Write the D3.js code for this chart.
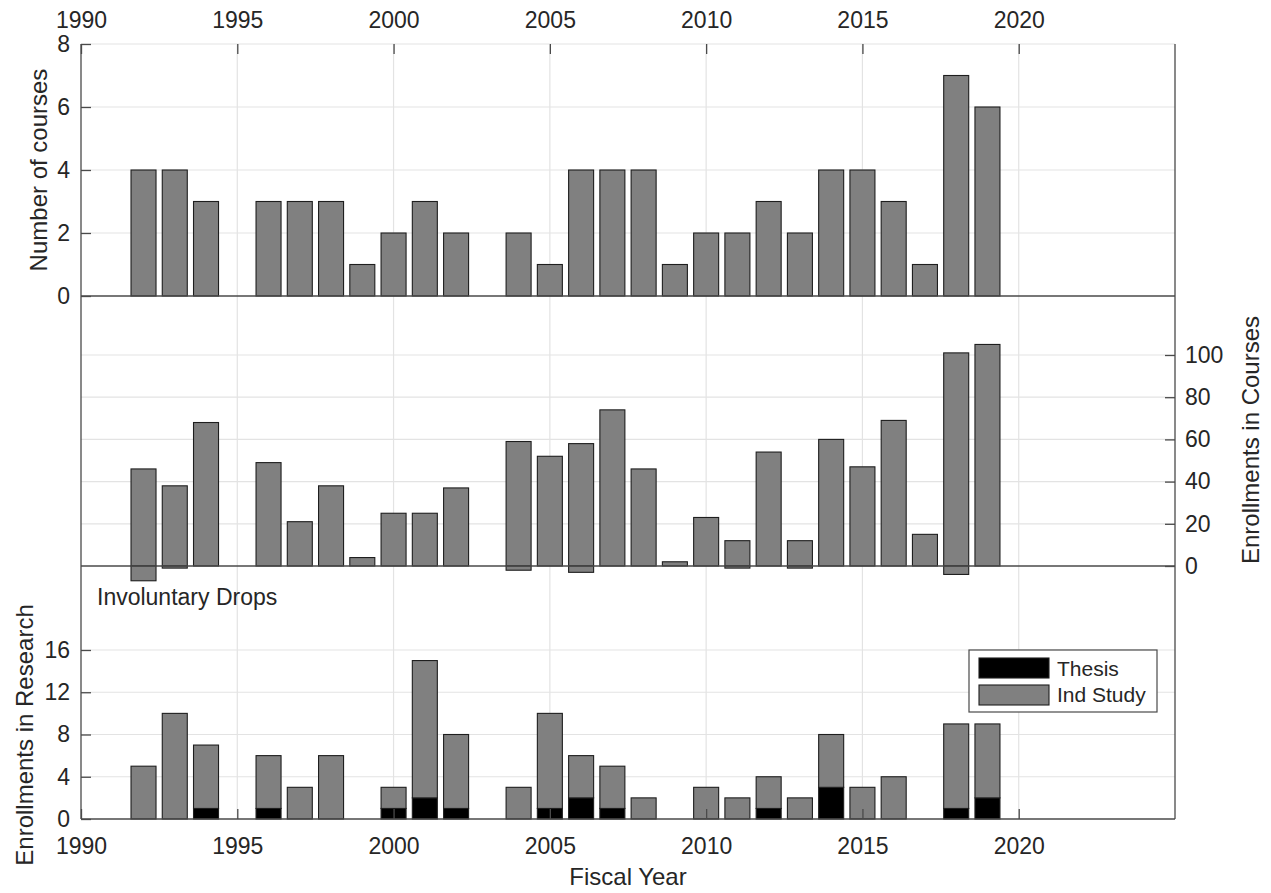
<!DOCTYPE html>
<html>
<head>
<meta charset="utf-8">
<script src="https://cdn.jsdelivr.net/npm/d3@7"></script>
<style>
  html, body { margin: 0; padding: 0; background: #fff; }
  svg { display: block; }
  text { font-family: "Liberation Sans", Arial, Helvetica, sans-serif; fill: #262626; }
</style>
</head>
<body>
<svg id="chart" width="1271" height="893"></svg>
<script>
// ---- data ----
const years       = [1992,1993,1994,1995,1996,1997,1998,1999,2000,2001,2002,2003,2004,2005,2006,2007,2008,2009,2010,2011,2012,2013,2014,2015,2016,2017,2018,2019];
const courses     = [4,4,3,0,3,3,3,1,2,3,2,0,2,1,4,4,4,1,2,2,3,2,4,4,3,1,7,6];
const enrollments = [46,38,68,0,49,21,38,4,25,25,37,0,59,52,58,74,46,2,23,12,54,12,60,47,69,15,101,105];
const drops       = [7,1,0,0,0,0,0,0,0,0,0,0,2,0,3,0,0,0,0,1,0,1,0,0,0,0,4,0];
const thesis      = [0,0,1,0,1,0,0,0,1,2,1,0,0,1,2,1,0,0,0,0,1,0,3,0,0,0,1,2];
const indStudy    = [5,10,6,0,5,3,6,0,2,13,7,0,3,9,4,4,2,0,3,2,3,2,5,3,4,0,8,7];
const xTicks      = [1990,1995,2000,2005,2010,2015,2020];
const topTicks    = [0,2,4,6,8];
const midTicks    = [0,20,40,60,80,100];
const botTicks    = [0,4,8,12,16];
const legendLabels = ["Thesis","Ind Study"];

// ---- layout ----
const L = 81, R = 1175, T = 44, B = 819;
const svg = d3.select("#chart");
const x = d3.scaleLinear().domain([1990, 2025]).range([L, R]);
const yTop = d3.scaleLinear().domain([0, 8]).range([296, T]);
const yMid = d3.scaleLinear().domain([0, 100]).range([566, 355]);
const yBot = d3.scaleLinear().domain([0, 16]).range([B, 650]);
const barW = x(1990.8) - x(1990);
const GRID = "#e3e3e3", AX = "#4a4a4a", GRAY = "#808080", EDGE = "#1e1e1e";

// ---- grid ----
const grid = svg.append("g");
xTicks.filter(v => v > 1990).forEach(v => {
  grid.append("line").attr("x1", x(v)).attr("x2", x(v)).attr("y1", T).attr("y2", B)
    .attr("stroke", GRID).attr("stroke-width", 1.2);
});
[[yTop, topTicks], [yMid, midTicks], [yBot, botTicks]].forEach(([s, tv]) => {
  tv.filter(v => v > 0).forEach(v => {
    grid.append("line").attr("x1", L).attr("x2", R).attr("y1", s(v)).attr("y2", s(v))
      .attr("stroke", GRID).attr("stroke-width", 1.2);
  });
});

// ---- bars ----
const idx = d3.range(years.length);
const bars = svg.append("g").attr("stroke", EDGE).attr("stroke-width", 1.1);
// top: number of courses
bars.selectAll(".c").data(idx.filter(i => courses[i] > 0)).join("rect")
  .attr("x", i => x(years[i]) - barW / 2).attr("width", barW)
  .attr("y", i => yTop(courses[i])).attr("height", i => yTop(0) - yTop(courses[i]))
  .attr("fill", GRAY);
// middle: enrollments and involuntary drops
bars.selectAll(".e").data(idx.filter(i => enrollments[i] > 0)).join("rect")
  .attr("x", i => x(years[i]) - barW / 2).attr("width", barW)
  .attr("y", i => yMid(enrollments[i])).attr("height", i => yMid(0) - yMid(enrollments[i]))
  .attr("fill", GRAY);
bars.selectAll(".d").data(idx.filter(i => drops[i] > 0)).join("rect")
  .attr("x", i => x(years[i]) - barW / 2).attr("width", barW)
  .attr("y", yMid(0)).attr("height", i => yMid(-drops[i]) - yMid(0))
  .attr("fill", GRAY);
// bottom: research (stacked)
bars.selectAll(".t").data(idx.filter(i => thesis[i] > 0)).join("rect")
  .attr("x", i => x(years[i]) - barW / 2).attr("width", barW)
  .attr("y", i => yBot(thesis[i])).attr("height", i => yBot(0) - yBot(thesis[i]))
  .attr("fill", "#000");
bars.selectAll(".s").data(idx.filter(i => indStudy[i] > 0)).join("rect")
  .attr("x", i => x(years[i]) - barW / 2).attr("width", barW)
  .attr("y", i => yBot(thesis[i] + indStudy[i])).attr("height", i => yBot(thesis[i]) - yBot(thesis[i] + indStudy[i]))
  .attr("fill", GRAY);

// ---- axis frame and zero lines ----
const frame = svg.append("g").attr("stroke", AX).attr("stroke-width", 1.3);
frame.append("line").attr("x1", L).attr("x2", L).attr("y1", T).attr("y2", B);
frame.append("line").attr("x1", R).attr("x2", R).attr("y1", T).attr("y2", B);
frame.append("line").attr("x1", L).attr("x2", R).attr("y1", B).attr("y2", B);
frame.append("line").attr("x1", L).attr("x2", R).attr("y1", yTop(0)).attr("y2", yTop(0));
frame.append("line").attr("x1", L).attr("x2", R).attr("y1", yMid(0)).attr("y2", yMid(0));

// ---- axes ----
function styleAxis(g, size) {
  g.select(".domain").remove();
  g.selectAll(".tick line").attr("stroke", AX).attr("stroke-width", 1.3);
  g.selectAll("text").attr("font-size", size).attr("fill", "#262626")
    .attr("font-family", '"Liberation Sans", Arial, Helvetica, sans-serif');
}
const xTopAx = svg.append("g").attr("transform", `translate(0,${T})`)
  .call(d3.axisTop(x).tickValues(xTicks).tickSize(-10).tickFormat(d3.format("d")));
styleAxis(xTopAx, 23);
xTopAx.selectAll("text").attr("y", -16).attr("dy", 0);

const xBotAx = svg.append("g").attr("transform", `translate(0,${B})`)
  .call(d3.axisBottom(x).tickValues(xTicks).tickSize(-10).tickFormat(d3.format("d")));
styleAxis(xBotAx, 23);
xBotAx.selectAll("text").attr("y", 35).attr("dy", 0);

const yTopAx = svg.append("g").attr("transform", `translate(${L},0)`)
  .call(d3.axisLeft(yTop).tickValues(topTicks).tickSize(-10).tickPadding(11));
styleAxis(yTopAx, 23);

const yMidAx = svg.append("g").attr("transform", `translate(${R},0)`)
  .call(d3.axisRight(yMid).tickValues(midTicks).tickSize(-10).tickPadding(10));
styleAxis(yMidAx, 23);

const yBotAx = svg.append("g").attr("transform", `translate(${L},0)`)
  .call(d3.axisLeft(yBot).tickValues(botTicks).tickSize(-10).tickPadding(11));
styleAxis(yBotAx, 23);

// ---- labels ----
svg.append("text").attr("transform", `translate(47,${(T + 296) / 2}) rotate(-90)`)
  .attr("text-anchor", "middle").attr("font-size", 24).text("Number of courses");
svg.append("text").attr("transform", `translate(1259,440) rotate(-90)`)
  .attr("text-anchor", "middle").attr("font-size", 24).text("Enrollments in Courses");
svg.append("text").attr("transform", `translate(33,735) rotate(-90)`)
  .attr("text-anchor", "middle").attr("font-size", 24).text("Enrollments in Research");
svg.append("text").attr("x", (L + R) / 2 + 0).attr("y", 885)
  .attr("text-anchor", "middle").attr("font-size", 24).text("Fiscal Year");
svg.append("text").attr("x", 97).attr("y", 605)
  .attr("font-size", 23).text("Involuntary Drops");

// ---- legend ----
const lg = svg.append("g");
lg.append("rect").attr("x", 969).attr("y", 650).attr("width", 188).attr("height", 62)
  .attr("fill", "#fff").attr("stroke", AX).attr("stroke-width", 1.2);
const legendFills = ["#000", GRAY];
legendLabels.forEach((lab, k) => {
  lg.append("rect").attr("x", 979).attr("y", 658 + k * 27).attr("width", 70).attr("height", 20)
    .attr("fill", legendFills[k]).attr("stroke", EDGE).attr("stroke-width", 1.1);
  lg.append("text").attr("x", 1057).attr("y", 676 + k * 26).attr("font-size", 21).text(lab);
});
</script>
</body>
</html>
